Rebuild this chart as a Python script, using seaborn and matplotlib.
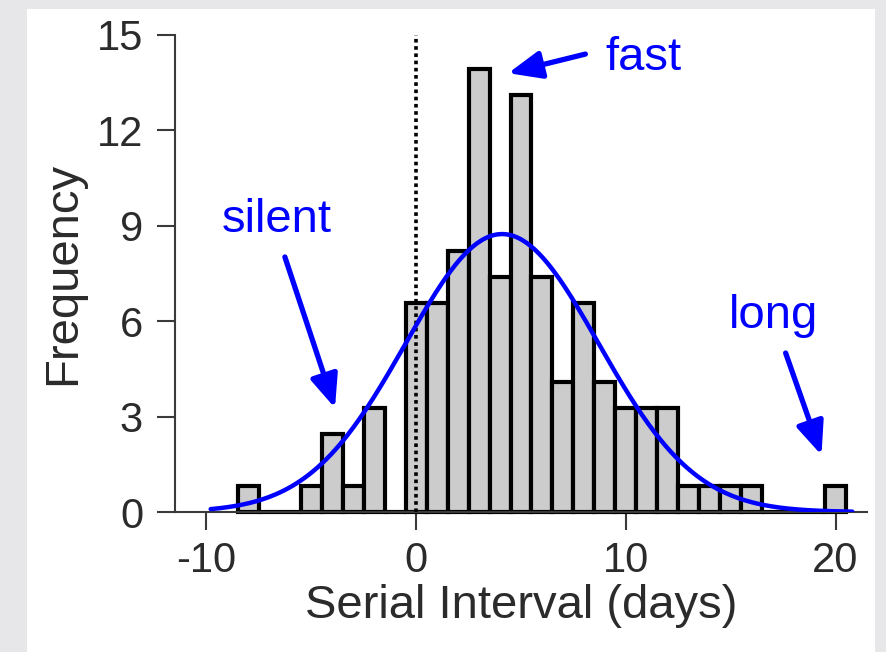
import numpy as np
import pandas as pd
import matplotlib
matplotlib.use('Agg')
import matplotlib.pyplot as plt
from matplotlib.patches import Rectangle
import seaborn as sns

# Data (bin centres in days, bar heights)
days = [-8, -7, -6, -5, -4, -3, -2, -1, 0, 1, 2, 3, 4, 5, 6, 7, 8, 9, 10,
        11, 12, 13, 14, 15, 16, 17, 18, 19, 20]
freq = [0.82, 0, 0, 0.82, 2.46, 0.82, 3.28, 0, 6.56, 6.56, 8.20, 13.93,
        7.38, 13.11, 7.38, 4.10, 6.56, 4.10, 3.28, 3.28, 3.28, 0.82, 0.82,
        0.82, 0.82, 0, 0, 0, 0.82]

# fitted normal curve (parameters)
fit_mu = 4.1
fit_sd = 4.6
fit_peak = 8.74
fit_range = (-9.8, 20.8)

xticks = [-10, 0, 10, 20]
yticks = [0, 3, 6, 9, 12, 15]

notes = {
    'silent': {'text': (-6.64, 8.8), 'tail': (-6.26, 8.02), 'tip': (-3.87, 3.27)},
    'fast': {'text': (10.83, 13.9), 'tail': (8.07, 14.40), 'tip': (4.39, 13.80)},
    'long': {'text': (17.05, 5.79), 'tail': (17.62, 5.0), 'tip': (19.33, 1.79)},
}

blue = '#0000ff'
dark = '#2b2b2b'

sns.set_style('ticks')
plt.rcParams.update({
    'font.family': ['Liberation Sans', 'DejaVu Sans'],
    'axes.edgecolor': '#3a3a3a',
})

W, H = 886, 652
fig = plt.figure(figsize=(W / 100, H / 100), dpi=100)
fig.patch.set_facecolor('#e7e7ea')
# white page behind the chart
page = Rectangle((27 / W, 0), (875 - 27) / W, (H - 9) / H,
                 transform=fig.transFigure, facecolor='white',
                 edgecolor='none', zorder=-10)
fig.add_artist(page)

ax = fig.add_axes([175 / W, 140 / H, 692 / W, 477 / H])
ax.set_facecolor('none')

df = pd.DataFrame({'days': days, 'freq': freq})
sns.histplot(data=df, x='days', weights='freq', discrete=True, color='#cccccc',
             edgecolor='black', linewidth=3, alpha=1, ax=ax)
# let the bar outlines sit fully on the baseline
for p in ax.patches:
    p.set_clip_on(False)

ax.axvline(0, ymin=0, ymax=1, color='black', linestyle=(0, (1, 1)),
           linewidth=2.6, zorder=3)

xs = np.linspace(fit_range[0], fit_range[1], 300)
ys = fit_peak * np.exp(-(xs - fit_mu) ** 2 / (2 * fit_sd ** 2))
sns.lineplot(x=xs, y=ys, color=blue, linewidth=3.2, ax=ax, zorder=4)

for label, pos in notes.items():
    ax.text(*pos['text'], label, color=blue, fontsize=34, ha='center', va='baseline')
    ax.annotate('', xy=pos['tip'], xytext=pos['tail'],
                arrowprops=dict(arrowstyle='-|>,head_length=1.0,head_width=0.42',
                                mutation_scale=20, color=blue, lw=3.8,
                                shrinkA=0, shrinkB=0))

ax.set_xlim(-11.5, 21.5)
ax.set_ylim(0, 15)
ax.set_xticks(xticks)
ax.set_yticks(yticks)
ax.tick_params(axis='both', length=13, width=1.5, color='#3a3a3a',
               labelsize=30, labelcolor=dark)
ax.tick_params(axis='x', pad=8)
ax.tick_params(axis='y', pad=10)
ax.set_xticklabels([str(t) for t in xticks])
ax.set_xlabel('Serial Interval (days)', fontsize=34, color=dark, labelpad=2)
ax.set_ylabel('Frequency', fontsize=34, color=dark, labelpad=8)
for side in ['top', 'right']:
    ax.spines[side].set_visible(False)
for side in ['left', 'bottom']:
    ax.spines[side].set_linewidth(1.5)

fig.savefig('out.png', dpi=100, facecolor=fig.get_facecolor())
